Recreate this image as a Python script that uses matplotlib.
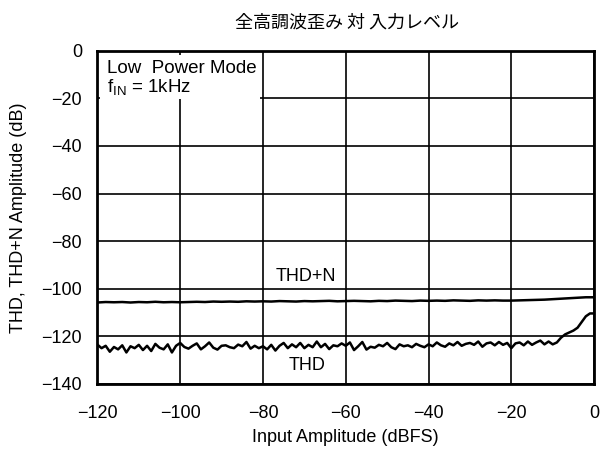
import numpy as np
import matplotlib.pyplot as plt
from matplotlib.patches import Rectangle

plt.rcParams["font.family"] = ["Liberation Sans", "Noto Sans CJK JP", "DejaVu Sans"]
plt.rcParams["axes.unicode_minus"] = True

# Data
title = "全高調波歪み 対 入力レベル"
x_label = "Input Amplitude (dBFS)"
y_label = "THD, THD+N Amplitude (dB)"

thd_x = np.arange(-120, 1, 1)
thd = [-123.5, -125.0, -124.0, -126.5, -124.5, -125.5, -123.8, -126.8, -124.2, -125.0,
       -123.6, -125.8, -124.0, -126.2, -123.2, -124.8, -125.5, -123.4, -126.8, -124.0,
       -122.8, -124.5, -125.2, -124.0, -123.0, -125.5, -124.2, -122.6, -124.8, -125.6,
       -124.0, -123.8, -124.6, -125.0, -123.5, -124.2, -122.4, -125.2, -124.0, -125.0,
       -124.2, -125.5, -123.6, -126.0, -124.0, -122.8, -125.0, -123.4, -124.6, -122.8,
       -125.0, -123.6, -124.6, -122.2, -124.6, -123.2, -125.4, -123.8, -124.2, -123.0,
       -124.0, -122.6, -125.8, -124.2, -122.4, -125.6, -124.4, -124.8, -123.6, -124.2,
       -122.8, -124.6, -125.4, -123.4, -124.2, -123.8, -124.6, -123.2, -124.0, -124.6,
       -123.4, -124.2, -122.6, -123.8, -124.4, -123.0, -123.8, -122.4, -124.0, -123.2,
       -122.8, -123.6, -122.2, -124.4, -123.0, -122.6, -123.8, -122.4, -123.6, -122.8,
       -125.0, -123.0, -122.6, -123.8, -122.2, -123.6, -122.6, -121.8, -123.4, -122.2,
       -123.4, -122.6, -120.6, -119.2, -118.4, -117.6, -116.4, -114.0, -111.6, -110.4,
       -110.4]

thdn_x = np.arange(-120, 1, 2)
thdn = [-105.8, -105.6, -105.7, -105.6, -105.8, -105.6, -105.7, -105.5, -105.7, -105.6,
        -105.7, -105.6, -105.5, -105.6, -105.4, -105.5, -105.4, -105.5, -105.3, -105.4,
        -105.3, -105.4, -105.2, -105.3, -105.4, -105.2, -105.3, -105.2, -105.1, -105.3,
        -105.2, -105.1, -105.2, -105.3, -105.1, -105.2, -105.0, -105.1, -105.2, -105.0,
        -105.1, -105.0, -105.1, -104.9, -105.0, -105.1, -104.9, -105.0, -104.9, -105.0,
        -105.0, -104.9, -104.8, -104.7, -104.6, -104.4, -104.2, -104.0, -103.8, -103.6,
        -103.6]

x_ticks = [-120, -100, -80, -60, -40, -20, 0]
y_ticks = [0, -20, -40, -60, -80, -100, -120, -140]

fs = 13
fig = plt.figure(figsize=(6.05, 4.5), dpi=100)
ax = fig.add_axes([0.161, 0.147, 0.821, 0.740])

ax.plot(thdn_x, thdn, color="black", linewidth=1.8, zorder=3)
ax.plot(thd_x, thd, color="black", linewidth=1.8, zorder=3)

ax.set_xlim(-120, 0)
ax.set_ylim(-140, 0)
ax.set_xticks(x_ticks)
ax.set_yticks(y_ticks)
ax.tick_params(axis="y", length=0, labelsize=fs, pad=11)
ax.tick_params(axis="x", length=0, labelsize=fs, pad=15)
ax.grid(True, color="black", linewidth=1.2)
for s in ax.spines.values():
    s.set_linewidth(2)
    s.set_zorder(5)

ax.set_xlabel(x_label, fontsize=fs, labelpad=5)
ax.set_ylabel(y_label, fontsize=fs, labelpad=10)
fig.text(0.574, 0.951, title, ha="center", va="center", fontsize=13,
         family=["Noto Sans CJK JP", "DejaVu Sans"])

# white panel behind the condition note
ax.add_patch(Rectangle((0.005, 0.855), 0.322, 0.132, transform=ax.transAxes,
                       facecolor="white", edgecolor="none", zorder=2.2))
ax.text(0.0195, 0.933, "Low  Power Mode", transform=ax.transAxes, fontsize=13.5,
        ha="left", va="baseline", zorder=4)
ax.text(0.0195, 0.876, "$\\mathregular{f_{IN}}$ = 1kHz", transform=ax.transAxes,
        fontsize=13.5, ha="left", va="baseline", zorder=4)

ax.text(-69.6, -95.0, "THD+N", fontsize=fs, ha="center", va="center", zorder=4)
ax.text(-69.4, -132.1, "THD", fontsize=fs, ha="center", va="center", zorder=4)

fig.savefig("out.png", dpi=100)
